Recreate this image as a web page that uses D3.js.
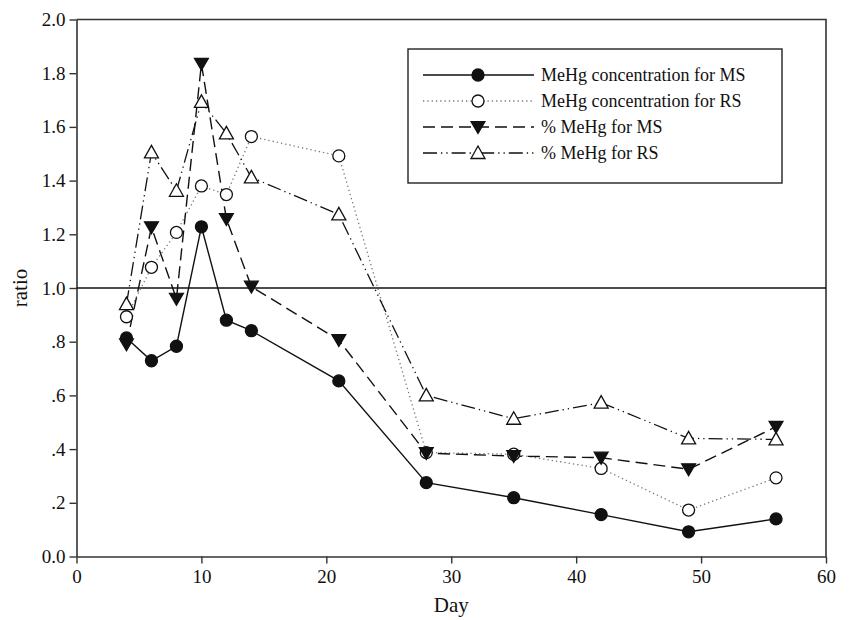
<!DOCTYPE html>
<html>
<head>
<meta charset="utf-8">
<script src="https://cdn.jsdelivr.net/npm/d3@7"></script>
<style>
  body { margin: 0; background: #fff; }
  svg text { font-family: "Liberation Serif", "DejaVu Serif", serif; fill: #111; }
</style>
</head>
<body>
<div class="chart"></div>
<script>
// Data
var days = [4, 6, 8, 10, 12, 14, 21, 28, 35, 42, 49, 56];
var concMS = [0.814, 0.729, 0.783, 1.228, 0.880, 0.841, 0.654, 0.275, 0.219, 0.156, 0.092, 0.140];
var concRS = [0.893, 1.077, 1.207, 1.380, 1.348, 1.564, 1.492, 0.387, 0.381, 0.328, 0.173, 0.293];
var pctMS = [0.790, 1.226, 0.960, 1.835, 1.257, 1.005, 0.806, 0.385, 0.374, 0.368, 0.325, 0.483];
var pctRS = [0.940, 1.505, 1.362, 1.693, 1.576, 1.412, 1.274, 0.600, 0.513, 0.573, 0.440, 0.436];
var seriesNames = ["MeHg concentration for MS", "MeHg concentration for RS", "% MeHg for MS", "% MeHg for RS"];
var yTicks = [0, 0.2, 0.4, 0.6, 0.8, 1.0, 1.2, 1.4, 1.6, 1.8, 2.0];
var yTickLabels = ["0.0", ".2", ".4", ".6", ".8", "1.0", "1.2", "1.4", "1.6", "1.8", "2.0"];
var xTicks = [0, 10, 20, 30, 40, 50, 60];

var serif = "'Liberation Serif', 'DejaVu Serif', serif";

// SVG area
var svgWidth = 851;
var svgHeight = 620;
var margin = { top: 19.5, right: 25, bottom: 63.5, left: 76.5 };
var width = svgWidth - margin.left - margin.right;
var height = svgHeight - margin.top - margin.bottom;

var svg = d3.select(".chart")
  .append("svg")
  .attr("width", svgWidth)
  .attr("height", svgHeight);

var chartGroup = svg.append("g")
  .attr("transform", `translate(${margin.left}, ${margin.top})`);

// Scales
var xScale = d3.scaleLinear().domain([0, 60]).range([0, width]);
var yScale = d3.scaleLinear().domain([0, 2]).range([height, 0]);

// Series styling
var styles = [
  { values: concMS, dash: null, stroke: "#111", width: 1.4, marker: "circle", fill: "#111" },
  { values: concRS, dash: "1.3,3", stroke: "#777", width: 1.3, marker: "circle", fill: "#fff" },
  { values: pctMS, dash: "12,6", stroke: "#111", width: 1.4, marker: "down", fill: "#111" },
  { values: pctRS, dash: "14,4,1.3,4,1.3,4", stroke: "#111", width: 1.3, marker: "up", fill: "#fff" }
];

// Frame (top and right)
chartGroup.append("path")
  .attr("d", `M0,0H${width}V${height}`)
  .attr("fill", "none")
  .attr("stroke", "#333")
  .attr("stroke-width", 1.6);

// Axes
var bottomAxis = d3.axisBottom(xScale).tickValues(xTicks).tickSize(7).tickSizeOuter(0).tickPadding(6)
  .tickFormat(d3.format("d"));
var leftAxis = d3.axisLeft(yScale).tickValues(yTicks).tickSize(7).tickSizeOuter(0).tickPadding(4)
  .tickFormat((d, i) => yTickLabels[i]);

var xAxisG = chartGroup.append("g")
  .attr("transform", `translate(0, ${height})`)
  .call(bottomAxis);
var yAxisG = chartGroup.append("g")
  .call(leftAxis);

[xAxisG, yAxisG].forEach(function(g) {
  g.attr("font-family", null).attr("font-size", null);
  g.select(".domain").attr("stroke", "#333").attr("stroke-width", 1.6);
  g.selectAll(".tick line").attr("stroke", "#333").attr("stroke-width", 1.4);
  g.selectAll(".tick text")
    .style("font-family", serif)
    .style("font-size", "19px")
    .attr("fill", "#111");
});

// Reference line at ratio = 1
chartGroup.append("line")
  .attr("x1", 0).attr("x2", width)
  .attr("y1", yScale(1)).attr("y2", yScale(1))
  .attr("stroke", "#111")
  .attr("stroke-width", 1.4);

// Marker drawing helper
function drawMarker(sel, type, fill) {
  if (type === "circle") {
    sel.append("circle").attr("r", 6)
      .attr("fill", fill).attr("stroke", "#111").attr("stroke-width", 1.3);
  } else if (type === "down") {
    sel.append("path").attr("d", "M-7,-5.5L7,-5.5L0,6.5Z")
      .attr("fill", fill).attr("stroke", "#111").attr("stroke-width", 1.2);
  } else {
    sel.append("path").attr("d", "M0,-7L7,5.5L-7,5.5Z")
      .attr("fill", fill).attr("stroke", "#111").attr("stroke-width", 1.3);
  }
}

var line = d3.line()
  .x((d, i) => xScale(days[i]))
  .y(d => yScale(d));

// Lines first, then markers
styles.forEach(function(s) {
  chartGroup.append("path")
    .datum(s.values)
    .attr("d", line)
    .attr("fill", "none")
    .attr("stroke", s.stroke)
    .attr("stroke-width", s.width)
    .attr("stroke-dasharray", s.dash);
});

styles.forEach(function(s) {
  var pts = chartGroup.selectAll(null)
    .data(s.values)
    .enter()
    .append("g")
    .attr("transform", (d, i) => `translate(${xScale(days[i])}, ${yScale(d)})`);
  drawMarker(pts, s.marker, s.fill);
});

// Legend
var legend = svg.append("g").attr("transform", "translate(408, 49)");
legend.append("rect")
  .attr("width", 374).attr("height", 134)
  .attr("fill", "#fff")
  .attr("stroke", "#222")
  .attr("stroke-width", 1.4);

styles.forEach(function(s, i) {
  var row = legend.append("g").attr("transform", `translate(0, ${26 + i * 26})`);
  row.append("line")
    .attr("x1", 15).attr("x2", 126)
    .attr("stroke", s.stroke)
    .attr("stroke-width", s.width)
    .attr("stroke-dasharray", s.dash);
  var m = row.append("g").attr("transform", "translate(70, 0)");
  drawMarker(m, s.marker, s.fill);
  row.append("text")
    .attr("x", 133)
    .attr("y", 0)
    .attr("dy", "0.35em")
    .style("font-family", serif)
    .style("font-size", "18px")
    .text(seriesNames[i]);
});

// Axis labels
svg.append("text")
  .attr("transform", `translate(20, ${margin.top + yScale(1)}) rotate(-90)`)
  .attr("text-anchor", "middle")
  .attr("dy", "0.35em")
  .style("font-family", serif)
  .style("font-size", "21px")
  .text("ratio");

svg.append("text")
  .attr("x", margin.left + xScale(30))
  .attr("y", 612)
  .attr("text-anchor", "middle")
  .style("font-family", serif)
  .style("font-size", "21px")
  .text("Day");
</script>
</body>
</html>
